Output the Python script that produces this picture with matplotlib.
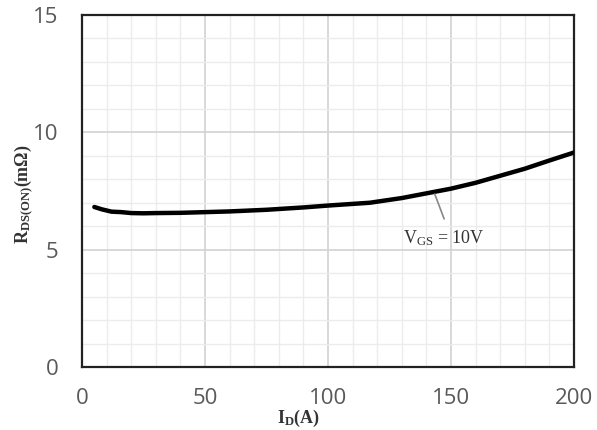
import matplotlib
matplotlib.use("Agg")
import matplotlib.pyplot as plt
from matplotlib.ticker import MultipleLocator

plt.rcParams['mathtext.fontset'] = 'custom'
plt.rcParams['mathtext.rm'] = 'Liberation Serif'
plt.rcParams['mathtext.bf'] = 'Liberation Serif:bold'
plt.rcParams['mathtext.it'] = 'Liberation Serif:italic'

# Data
id_a = [5, 8, 12, 16, 20, 25, 30, 40, 50, 60, 75, 90, 100, 117, 130, 143, 150, 160, 171, 180, 190, 200]
rds_mohm = [6.82, 6.72, 6.62, 6.6, 6.56, 6.55, 6.56, 6.57, 6.6, 6.63, 6.7, 6.8, 6.88, 7.0,
            7.2, 7.46, 7.6, 7.85, 8.18, 8.45, 8.8, 9.14]
x_ticks = [0, 50, 100, 150, 200]
y_ticks = [0, 5, 10, 15]
annot_text = r'$\mathrm{V_{GS}}$ = 10V'

fig = plt.figure(figsize=(5.97, 4.30), dpi=100)
ax = fig.add_axes([0.1374, 0.1465, 0.8241, 0.8186])

ax.plot(id_a, rds_mohm, color='black', lw=3.2, solid_capstyle='round', zorder=3)

ax.set_xlim(0, 200)
ax.set_ylim(0, 15)
ax.set_xticks(x_ticks)
ax.set_yticks(y_ticks)
ax.xaxis.set_minor_locator(MultipleLocator(10))
ax.yaxis.set_minor_locator(MultipleLocator(1))
ax.grid(which='major', color='#d2d2d2', lw=1.2, zorder=0)
ax.grid(which='minor', color='#ececec', lw=1.0, zorder=0)
ax.set_axisbelow(True)
ax.tick_params(which='both', length=0)
ax.tick_params(axis='x', pad=15, labelsize=16, labelcolor='#595959')
ax.tick_params(axis='y', pad=17, labelsize=16, labelcolor='#595959')
for lab in ax.get_xticklabels() + ax.get_yticklabels():
    lab.set_fontfamily('Open Sans')
for s in ax.spines.values():
    s.set_color('#222222')
    s.set_linewidth(1.6)

ax.annotate('', xy=(143, 7.48), xytext=(147.6, 6.2),
            arrowprops=dict(arrowstyle='-', color='#888888', lw=1.2))
ax.text(147, 5.5, annot_text, fontsize=13, family='Liberation Serif',
        ha='center', va='center', color='#333333')

fig.text(0.039, 0.549, r'$\mathbf{R_{DS(ON)}(m\Omega)}$', rotation=90,
         fontsize=13, ha='center', va='center', color='#333333')
fig.text(0.5, 0.028, r'$\mathbf{I_{D}(A)}$', fontsize=13, ha='center', va='center',
         color='#333333')

fig.savefig('out.png', dpi=100)
